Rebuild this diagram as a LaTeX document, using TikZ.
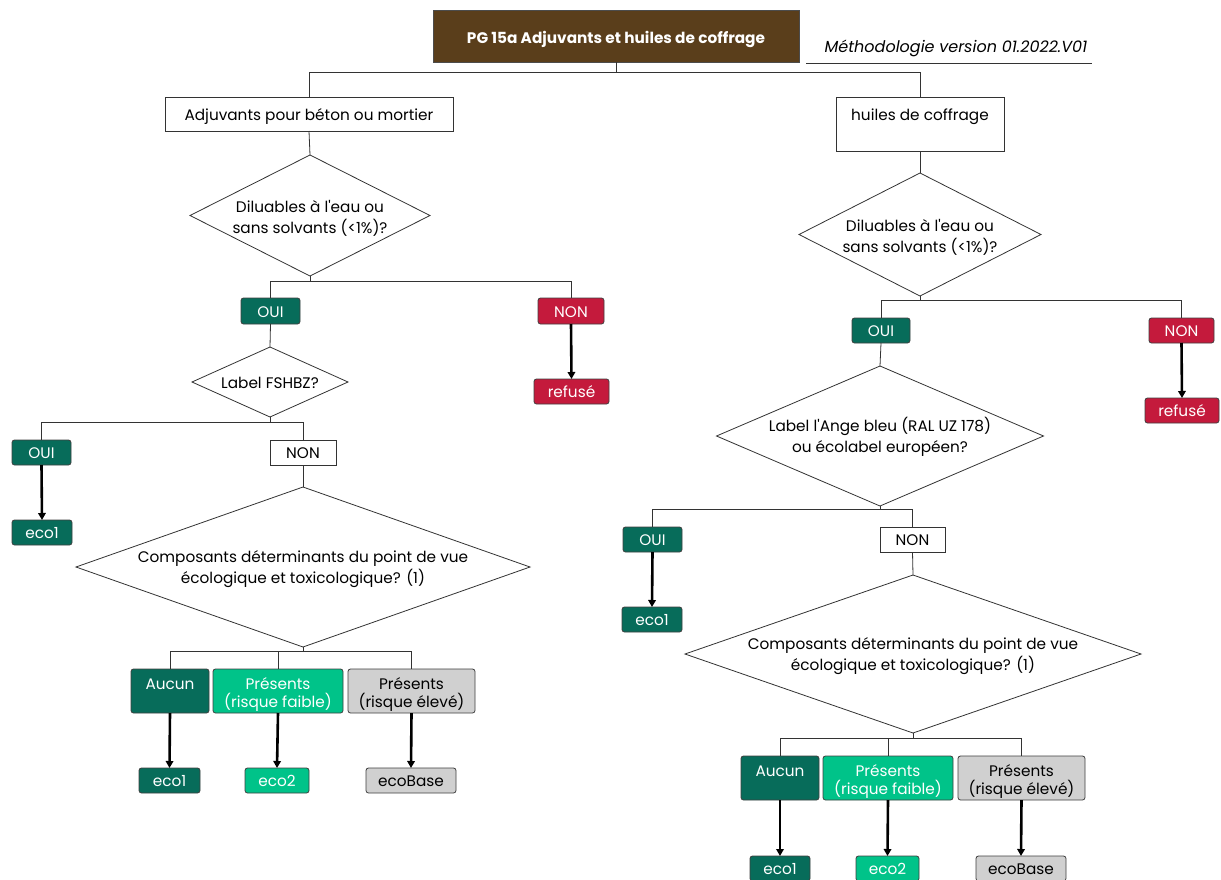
\documentclass[tikz,border=0pt]{standalone}
\usepackage{fontspec}
\setmainfont{Poppins}[Ligatures=TeXOff]
\usetikzlibrary{shapes.geometric,arrows.meta}
\definecolor{dgreen}{HTML}{076C5A}
\definecolor{lgreen}{HTML}{00C389}
\definecolor{rred}{HTML}{C41A3C}
\definecolor{ggray}{HTML}{D0D0D0}
\definecolor{brownbox}{HTML}{5A3E1B}
\definecolor{lnc}{HTML}{333333}
\begin{document}
\begin{tikzpicture}[x=1pt,y=-1pt,
  every node/.style={font=\fontsize{15.3}{20.5}\selectfont, inner sep=0pt, outer sep=0pt},
  one/.style={text height=12.5pt, text depth=0.5pt},
  two/.style={align=center, font=\fontsize{15.3}{18.5}\selectfont},
  dtxt/.style={align=center, font=\fontsize{15.3}{20.5}\selectfont},
  wbox/.style={draw=lnc, line width=0.8pt, fill=white},
  cbox/.style={draw=black!75, line width=0.8pt, rounded corners=2.5pt},
  gbox/.style={cbox, fill=dgreen, text=white},
  lbox/.style={cbox, fill=lgreen, text=white},
  rbox/.style={cbox, fill=rred, text=white},
  ybox/.style={cbox, fill=ggray, text=black},
  dia/.style={diamond, draw=lnc, line width=0.8pt, fill=white},
  conn/.style={draw=lnc, line width=0.8pt},
  arr/.style={draw=black, line width=2.6pt, -{Triangle[width=7.5pt,length=7pt]}}
]
\useasboundingbox (0,0) rectangle (1221,879);
\fill[white] (0,0) rectangle (1221,879);

% title
\node[draw=black!70, line width=0.8pt, fill=brownbox,
      minimum width=366pt, minimum height=52pt] (title) at (616,36) {};
\node[one, text=white, font=\fontsize{15.3}{20}\selectfont\bfseries] (tt) at ([yshift=-1pt]title.center) {PG 15a Adjuvants et huiles de coffrage};
\node[one, font=\fontsize{16}{20}\selectfont\itshape] (meth) at (956,46) {Méthodologie version 01.2022.V01};
\draw[lnc, line width=0.8pt] (806,63) -- (1092,63);

% left branch
\node[one, wbox, minimum width=288pt, minimum height=34pt] (adj) at (309,114) {Adjuvants pour béton ou mortier};
\node[dia, minimum width=240pt, minimum height=121pt] (d1) at (310,215.5) {};
\node[dtxt] (t1) at ([yshift=-3pt]d1.center) {Diluables à l'eau ou\\sans solvants (<1\%)?};
\node[one, gbox, minimum width=59pt, minimum height=26pt] (oui1) at (270.5,311) {OUI};
\node[one, rbox, minimum width=66pt, minimum height=26pt] (non1) at (571,311) {NON};
\node[one, rbox, minimum width=75pt, minimum height=25pt] (ref1) at (571.5,391.5) {refusé};
\node[dia, minimum width=156pt, minimum height=70pt] (d2) at (270,382) {};
\node[one] (t2) at (d2.center) {Label FSHBZ?};
\node[one, gbox, minimum width=59pt, minimum height=25pt] (oui2) at (41.5,452.5) {OUI};
\node[one, wbox, minimum width=66pt, minimum height=25pt] (non2) at (303,452.5) {NON};
\node[one, gbox, minimum width=60pt, minimum height=25pt] (eco1a) at (42,532.5) {eco1};
\node[dia, minimum width=454pt, minimum height=160pt] (d3) at (303,567) {};
\node[dtxt] (t3) at ([yshift=-2pt]d3.center) {Composants déterminants du point de vue\\écologique et toxicologique? (1)};
\node[gbox, minimum width=78pt, minimum height=44pt] (auc1) at (170,691) {};
\node[one, text=white] (ta1) at ([yshift=-14pt]auc1.north) {Aucun};
\node[lbox, minimum width=130pt, minimum height=44pt] (fai1) at (278,691) {};
\node[two, text=white] (tf1) at ([yshift=-3.5pt]fai1.center) {Présents\\(risque faible)};
\node[ybox, minimum width=127pt, minimum height=44pt] (ele1) at (411.5,691) {};
\node[two] (te1) at ([yshift=-3.5pt]ele1.center) {Présents\\(risque élevé)};
\node[one, gbox, minimum width=61pt, minimum height=25pt] (eco1b) at (169.5,780.5) {eco1};
\node[one, lbox, minimum width=64pt, minimum height=25pt] (eco2a) at (277,780.5) {eco2};
\node[one, ybox, minimum width=90pt, minimum height=25pt] (ecoBa) at (411,780.5) {ecoBase};

% right branch
\node[wbox, minimum width=168pt, minimum height=54pt] (hui) at (920,124) {};
\node[one] (th) at ([yshift=-17pt]hui.north) {huiles de coffrage};
\node[dia, minimum width=242pt, minimum height=123pt] (d4) at (920,234.5) {};
\node[dtxt] (t4) at ([yshift=-3pt]d4.center) {Diluables à l'eau ou\\sans solvants (<1\%)?};
\node[one, gbox, minimum width=58pt, minimum height=25pt] (oui3) at (881,330.5) {OUI};
\node[one, rbox, minimum width=65pt, minimum height=25pt] (non3) at (1181.5,330.5) {NON};
\node[one, rbox, minimum width=74pt, minimum height=25pt] (ref2) at (1182,410.5) {refusé};
\node[dia, minimum width=327pt, minimum height=140pt] (d5) at (880,436) {};
\node[dtxt] (t5) at ([yshift=-1pt]d5.center) {Label l'Ange bleu (RAL UZ 178)\\ou écolabel européen?};
\node[one, gbox, minimum width=59pt, minimum height=25pt] (oui4) at (652.5,539.5) {OUI};
\node[one, wbox, minimum width=65pt, minimum height=25pt] (non4) at (912.5,539.5) {NON};
\node[one, gbox, minimum width=60pt, minimum height=25pt] (eco1c) at (652,619.5) {eco1};
\node[dia, minimum width=456pt, minimum height=158pt] (d6) at (913,654) {};
\node[dtxt] (t6) at ([yshift=-2pt]d6.center) {Composants déterminants du point de vue\\écologique et toxicologique? (1)};
\node[gbox, minimum width=78pt, minimum height=44pt] (auc2) at (780,778) {};
\node[one, text=white] (ta2) at ([yshift=-14pt]auc2.north) {Aucun};
\node[lbox, minimum width=130pt, minimum height=44pt] (fai2) at (888,778) {};
\node[two, text=white] (tf2) at ([yshift=-3.5pt]fai2.center) {Présents\\(risque faible)};
\node[ybox, minimum width=127pt, minimum height=44pt] (ele2) at (1021.5,778) {};
\node[two] (te2) at ([yshift=-3.5pt]ele2.center) {Présents\\(risque élevé)};
\node[one, gbox, minimum width=60pt, minimum height=25pt] (eco1d) at (780,868.5) {eco1};
\node[one, lbox, minimum width=63pt, minimum height=25pt] (eco2b) at (887.5,868.5) {eco2};
\node[one, ybox, minimum width=90pt, minimum height=25pt] (ecoBb) at (1021,868.5) {ecoBase};

% connectors
\draw[conn] (title.south) -- ++(0,10) -| (adj.north);
\draw[conn] (title.south) -- ++(0,10) -| (hui.north);
\draw[conn] (adj.south) -- (d1.north);
\draw[conn] (d1.south) -- ++(0,5) -| (oui1.north);
\draw[conn] (d1.south) -- ++(0,5) -| (non1.north);
\draw[arr] (non1.south) -- (ref1.north);
\draw[conn] (oui1.south) -- (d2.north);
\draw[conn] (d2.south) -- ++(0,5) -| (oui2.north);
\draw[conn] (d2.south) -- ++(0,5) -| (non2.north);
\draw[arr] (oui2.south) -- (eco1a.north);
\draw[conn] (non2.south) -- (d3.north);
\draw[conn] (d3.south) -- ++(0,4) -| (auc1.north);
\draw[conn] (d3.south) -- ++(0,4) -| (fai1.north);
\draw[conn] (d3.south) -- ++(0,4) -| (ele1.north);
\draw[arr] (auc1.south) -- (eco1b.north);
\draw[arr] (fai1.south) -- (eco2a.north);
\draw[arr] (ele1.south) -- (ecoBa.north);

\draw[conn] (hui.south) -- (d4.north);
\draw[conn] (d4.south) -- ++(0,4) -| (oui3.north);
\draw[conn] (d4.south) -- ++(0,4) -| (non3.north);
\draw[arr] (non3.south) -- (ref2.north);
\draw[conn] (oui3.south) -- (d5.north);
\draw[conn] (d5.south) -- ++(0,3) -| (oui4.north);
\draw[conn] (d5.south) -- ++(0,3) -| (non4.north);
\draw[arr] (oui4.south) -- (eco1c.north);
\draw[conn] (non4.south) -- (d6.north);
\draw[conn] (d6.south) -- ++(0,5) -| (auc2.north);
\draw[conn] (d6.south) -- ++(0,5) -| (fai2.north);
\draw[conn] (d6.south) -- ++(0,5) -| (ele2.north);
\draw[arr] (auc2.south) -- (eco1d.north);
\draw[arr] (fai2.south) -- (eco2b.north);
\draw[arr] (ele2.south) -- (ecoBb.north);
\end{tikzpicture}
\end{document}
